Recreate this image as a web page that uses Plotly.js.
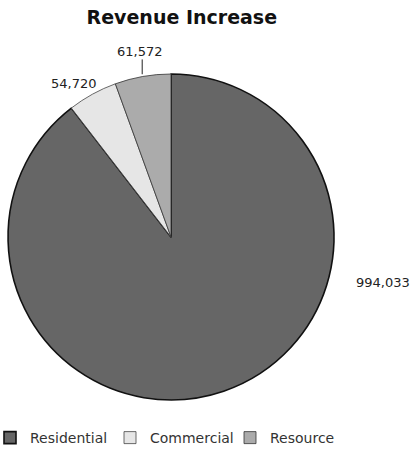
<!DOCTYPE html>
<html>
<head>
<meta charset="utf-8">
<script src="https://cdn.plot.ly/plotly-3.0.1.min.js"></script>
<style>html,body{margin:0;padding:0;background:#fff;}#chart{width:417px;height:464px;}</style>
</head>
<body>
<div id="chart"></div>
<script>
const categories = ["Residential", "Commercial", "Resource"];
const values = [994033, 54720, 61572];
const colors = ["#666666", "#e6e6e6", "#ababab"];

const fmt = v => v.toLocaleString("en-US");

// label positions (paper coords) for each slice value
const labelPos = [
  {x: 0.918, y: 0.392},
  {x: 0.178, y: 0.821},
  {x: 0.336, y: 0.888}
];

const trace = {
  type: "pie",
  labels: categories,
  values: values,
  sort: false,
  direction: "clockwise",
  rotation: 0,
  textinfo: "none",
  hoverinfo: "label+value",
  marker: {colors: colors, line: {color: ["#111", "#444", "#333"], width: [1.6, 0.8, 0.8]}},
  domain: {x: [0.0192, 0.801], y: [0.138, 0.8405]}
};

const annotations = values.map((v, i) => ({
  xref: "paper", yref: "paper",
  x: labelPos[i].x, y: labelPos[i].y,
  xanchor: "center", yanchor: "middle",
  text: fmt(v), showarrow: false,
  font: {family: "DejaVu Sans, sans-serif", size: 13, color: "#222"}
}));

const layout = {
  width: 417, height: 464,
  margin: {l: 0, r: 0, t: 0, b: 0},
  paper_bgcolor: "#fff",
  title: {
    text: "<b>Revenue Increase</b>",
    x: 0.436, xanchor: "center", y: 0.962, yanchor: "middle",
    font: {family: "DejaVu Sans, sans-serif", size: 19, color: "#111"}
  },
  showlegend: true,
  legend: {
    orientation: "h", x: 0, xanchor: "left", y: 0.056, yanchor: "middle",
    font: {family: "DejaVu Sans, sans-serif", size: 14, color: "#333"},
    entrywidth: 85, itemwidth: 30, indentation: -10, traceorder: "normal"
  },
  annotations: annotations,
  shapes: [{
    type: "line", xref: "paper", yref: "paper",
    x0: 0.341, x1: 0.341, y0: 0.872, y1: 0.84,
    line: {color: "#222", width: 1}
  }]
};

Plotly.newPlot("chart", [trace], layout, {displayModeBar: false, staticPlot: true});
</script>
</body>
</html>
